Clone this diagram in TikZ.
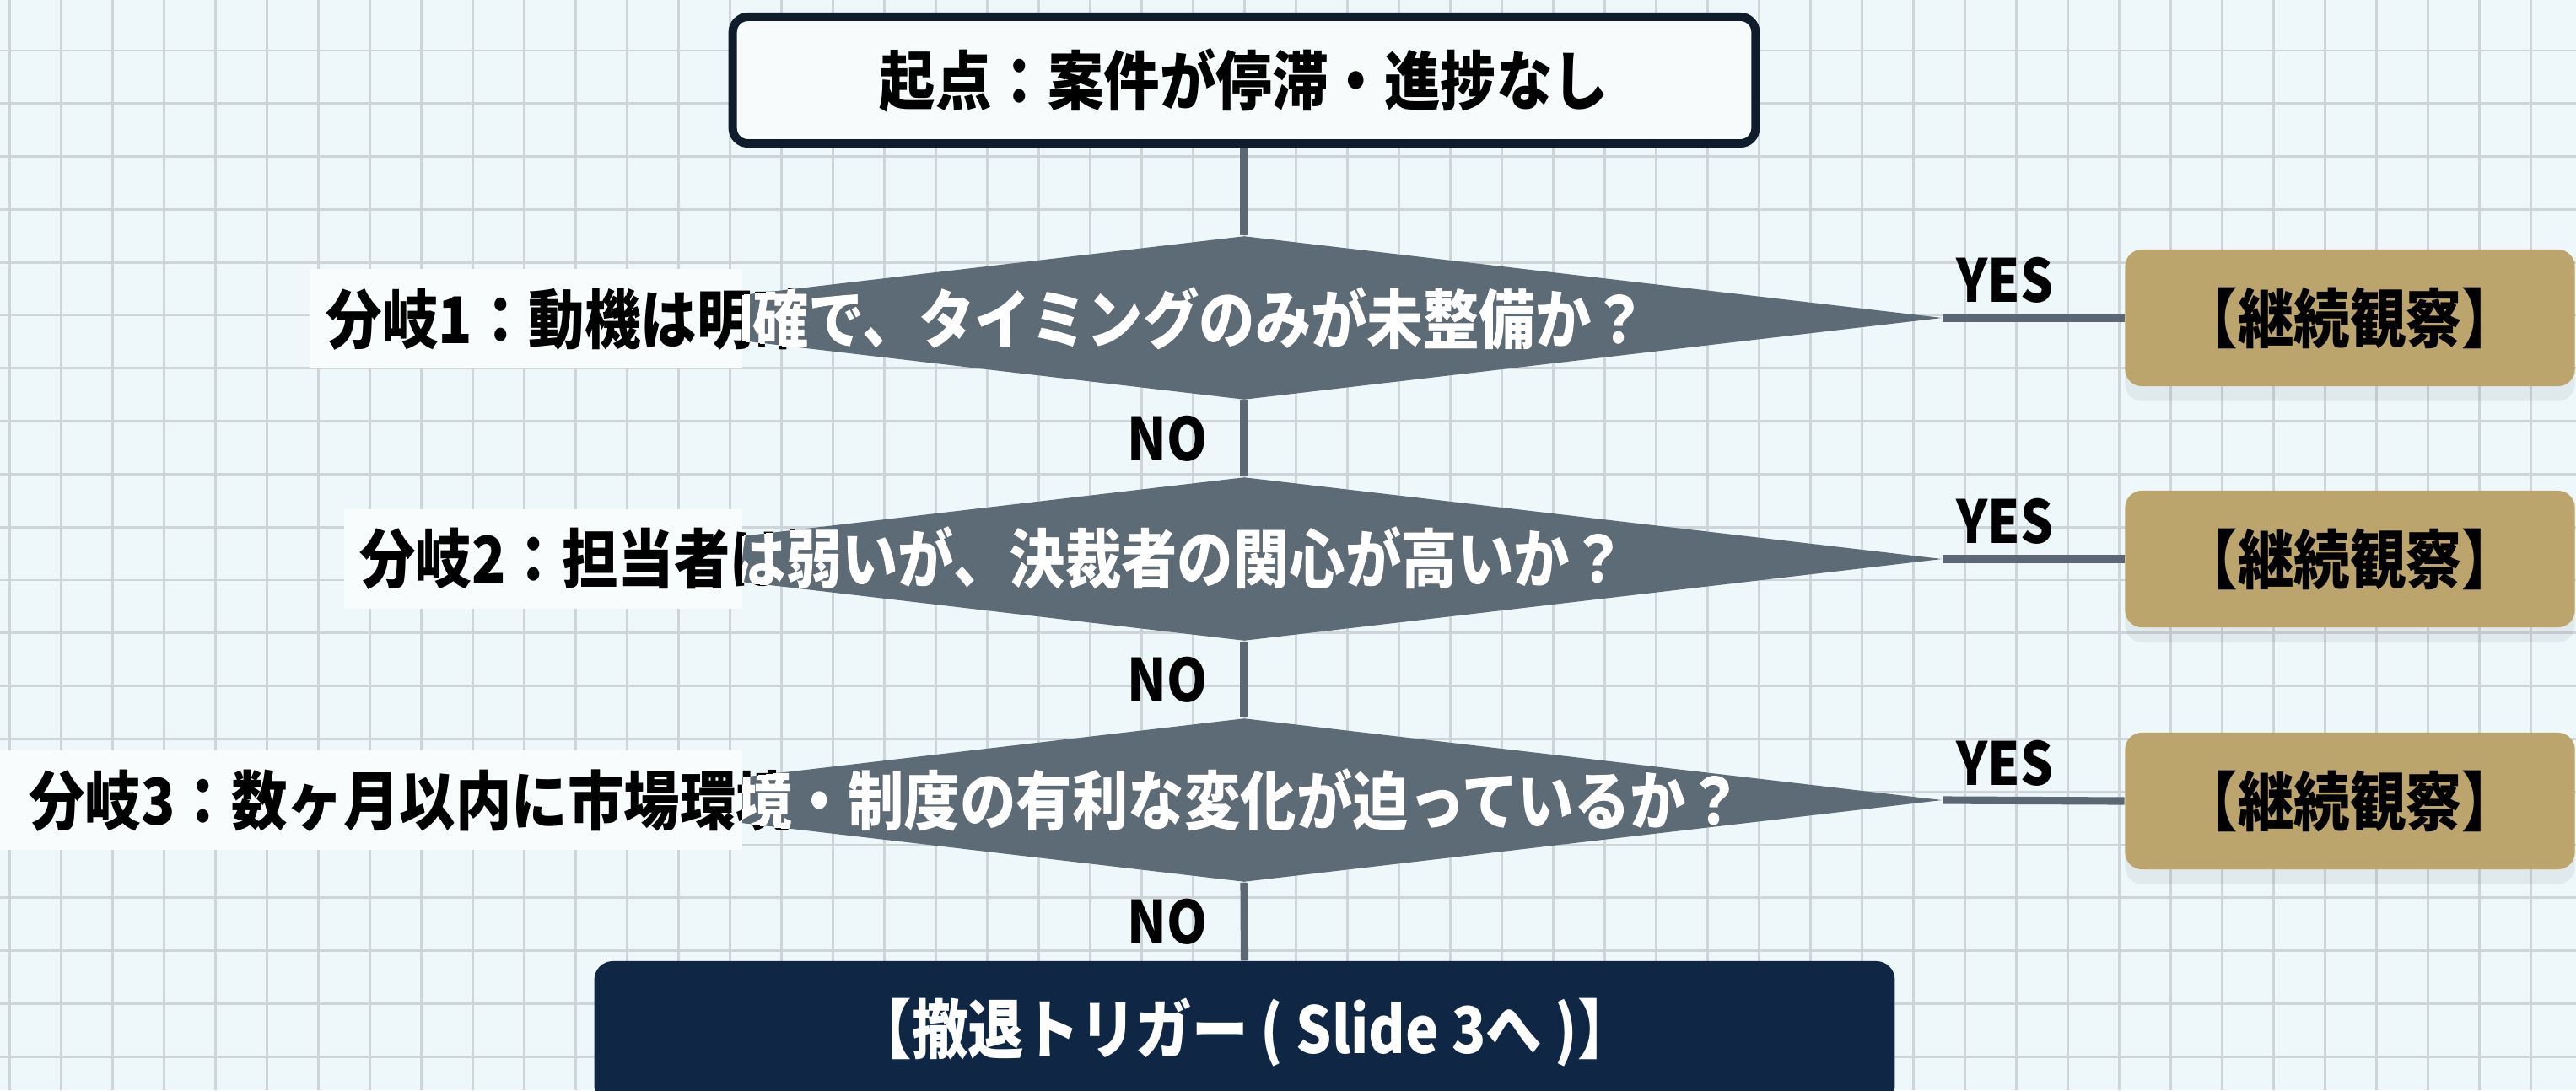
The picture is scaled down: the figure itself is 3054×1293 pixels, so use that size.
\documentclass[tikz,border=0pt]{standalone}
\usepackage{fontspec}
\usepackage{graphicx}
\setmainfont{Noto Sans CJK JP}
\usetikzlibrary{shapes.geometric,shadows}
\definecolor{bgc}{HTML}{EEF8FA}
\definecolor{gridc}{HTML}{CDD5D9}
\definecolor{navyb}{HTML}{0E1C2C}
\definecolor{topfill}{HTML}{F7FBFC}
\definecolor{slate}{HTML}{5D6B77}
\definecolor{linec}{HTML}{5B6873}
\definecolor{goldc}{HTML}{BCA56D}
\definecolor{stopc}{HTML}{0F2744}
\definecolor{labelbg}{HTML}{F9FCFD}
\newcommand\tallt[1]{\scalebox{1}[1.15]{#1}}
\begin{document}
\begin{tikzpicture}[x=0.01cm,y=-0.01cm,
  every node/.style={font=\fontsize{18.9pt}{22pt}\selectfont\bfseries, inner sep=0pt},
  startbox/.style={draw=navyb, line width=2.85pt, fill=topfill, rounded corners=0.18cm,
    minimum width=12.12cm, minimum height=1.5cm, text=black},
  decision/.style={diamond, fill=slate, minimum width=16.54cm, minimum height=1.94cm},
  keepbox/.style={fill=goldc, rounded corners=0.2cm, minimum width=5.33cm, minimum height=1.62cm,
    text=black, drop shadow={shadow xshift=0pt, shadow yshift=-5pt, opacity=0.12}},
  stopbox/.style={fill=stopc, rounded corners=0.22cm, minimum width=15.41cm, minimum height=1.7cm, text=white},
  conn/.style={draw=linec, line width=2.6pt},
  yn/.style={font=\fontsize{17.4pt}{20pt}\selectfont\bfseries, text=black},
  dlabel/.style={anchor=center}
]
\clip (0,0) rectangle (3054,1293);
\fill[bgc] (0,0) rectangle (3054,1293);
\foreach \k in {0,...,49} \draw[gridc, line width=0.8pt] ({11.5+61*\k},0) -- ({11.5+61*\k},1293);
\foreach \k in {0,...,19} \draw[gridc, line width=0.8pt] (0,{60+62.8*\k}) -- (3054,{60+62.8*\k});

% main nodes
\node[startbox] (start) at (1475,95) {\tallt{起点：案件が停滞・進捗なし}};
\node[decision] (d1) at (1475,377) {};
\node[decision] (d2) at (1475,663) {};
\node[decision] (d3) at (1475,949) {};
\node[keepbox] (k1) at (2786,377) {\tallt{【継続観察】}};
\node[keepbox] (k2) at (2786,663) {\tallt{【継続観察】}};
\node[keepbox] (k3) at (2786,950) {\tallt{【継続観察】}};
\node[stopbox] (stop) at (1475.5,1225) {\tallt{【撤退トリガー ( Slide 3へ )】}};

% connectors
\draw[conn] (start.south) -- (d1.north);
\draw[conn] (d1.south) -- (d2.north);
\draw[conn] (d2.south) -- (d3.north);
\draw[conn] (d3.south) -- (stop.north);
\draw[conn] (d1.east) -- (k1.west);
\draw[conn] (d2.east) -- (k2.west);
\draw[conn] (d3.east) -- (k3.west);

% YES / NO
\node[yn] (y1) at (2377,332) {\tallt{YES}};
\node[yn] (y2) at (2377,618) {\tallt{YES}};
\node[yn] (y3) at (2377,905) {\tallt{YES}};
\node[yn] (n1) at (1384,520) {\tallt{NO}};
\node[yn] (n2) at (1384,806) {\tallt{NO}};
\node[yn] (n3) at (1384,1093) {\tallt{NO}};

% decision labels
\fill[labelbg] (367,319) rectangle (880,437);
\node[dlabel, text=black] (l1) at (1170,378) {\tallt{分岐1：動機は明確で、タイミングのみが未整備か？}};
\begin{scope}
  \clip (d1.north) -- (d1.east) -- (d1.south) -- (d1.west) -- cycle;
  \clip (880,0) rectangle (3054,1293);
  \node[dlabel, text=white] (l1w) at (l1.center) {\tallt{分岐1：動機は明確で、タイミングのみが未整備か？}};
\end{scope}

\fill[labelbg] (408,604) rectangle (880,722);
\node[dlabel, text=black] (l2) at (1177,662) {\tallt{分岐2：担当者は弱いが、決裁者の関心が高いか？}};
\begin{scope}
  \clip (d2.north) -- (d2.east) -- (d2.south) -- (d2.west) -- cycle;
  \clip (880,0) rectangle (3054,1293);
  \node[dlabel, text=white] (l2w) at (l2.center) {\tallt{分岐2：担当者は弱いが、決裁者の関心が高いか？}};
\end{scope}

\fill[labelbg] (0,890) rectangle (880,1008);
\node[dlabel, text=black] (l3) at (1050,949) {\tallt{分岐3：数ヶ月以内に市場環境・制度の有利な変化が迫っているか？}};
\begin{scope}
  \clip (d3.north) -- (d3.east) -- (d3.south) -- (d3.west) -- cycle;
  \clip (880,0) rectangle (3054,1293);
  \node[dlabel, text=white] (l3w) at (l3.center) {\tallt{分岐3：数ヶ月以内に市場環境・制度の有利な変化が迫っているか？}};
\end{scope}
\end{tikzpicture}
\end{document}
